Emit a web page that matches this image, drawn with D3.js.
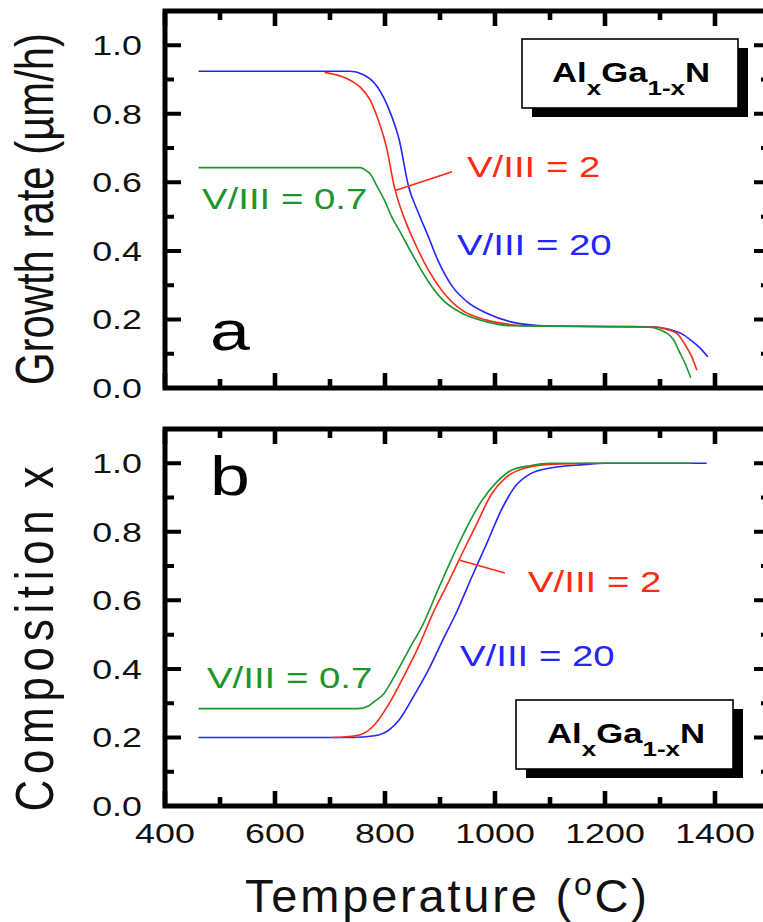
<!DOCTYPE html>
<html>
<head>
<meta charset="utf-8">
<script src="https://cdn.jsdelivr.net/npm/d3@7"></script>
<style>
  body { margin: 0; background: #fff; }
  svg { display: block; }
</style>
</head>
<body>
<div id="chart"></div>
<script>
const width = 763;
const height = 922;
const SX = 1.28; // the figure's lettering is stretched sideways
const font = '"Liberation Sans", Arial, Helvetica, sans-serif';

const blue = "#2424ff", red = "#ff2a12", green = "#1c962c";

// tick values
const xTicks = [400, 600, 800, 1000, 1200, 1400];
const xMinor = [500, 700, 900, 1100, 1300, 1500];
const yTicks = [0, 0.2, 0.4, 0.6, 0.8, 1.0];
const yMinor = [0.1, 0.3, 0.5, 0.7, 0.9];

// (a) growth rate, µm/h, vs temperature °C
const rate20 = [[461, 0.924], [736, 0.924], [760, 0.915], [786, 0.879], [808, 0.81], [826, 0.723],
  [843, 0.587], [861, 0.51], [879, 0.441], [896, 0.373], [923, 0.295], [949, 0.252], [985, 0.218],
  [1029, 0.193], [1082, 0.182], [1100, 0.18], [1250, 0.179], [1290, 0.178], [1321, 0.169],
  [1340, 0.158], [1356, 0.14], [1372, 0.118], [1387, 0.091]];
const rate2 = [[690, 0.921], [719, 0.91], [740, 0.895], [755, 0.878], [773, 0.84], [786, 0.79],
  [803, 0.70], [817, 0.587], [834, 0.5], [852, 0.431], [879, 0.344], [905, 0.281], [940, 0.227],
  [985, 0.198], [1020, 0.187], [1060, 0.181], [1285, 0.178], [1310, 0.172], [1330, 0.16],
  [1348, 0.12], [1358, 0.09], [1367, 0.052]];
const rate07 = [[461, 0.643], [755, 0.643], [765, 0.635], [773, 0.625], [786, 0.587], [799, 0.548],
  [812, 0.5], [826, 0.46], [852, 0.383], [879, 0.31], [905, 0.257], [940, 0.218], [985, 0.193],
  [1029, 0.182], [1277, 0.178], [1300, 0.17], [1312, 0.16], [1325, 0.14], [1334, 0.11],
  [1346, 0.07], [1356, 0.03]];

// (b) composition x vs temperature °C
const comp20 = [[461, 0.2], [740, 0.2], [781, 0.205], [808, 0.223], [826, 0.252], [852, 0.32],
  [879, 0.397], [905, 0.484], [932, 0.572], [958, 0.669], [985, 0.766], [1011, 0.862],
  [1038, 0.935], [1064, 0.969], [1100, 0.986], [1162, 0.996], [1200, 1.0], [1385, 1.0]];
const comp2 = [[702, 0.2], [730, 0.202], [755, 0.208], [781, 0.237], [808, 0.30], [834, 0.378],
  [861, 0.465], [887, 0.562], [914, 0.649], [940, 0.736], [967, 0.824], [994, 0.911],
  [1020, 0.959], [1055, 0.986], [1091, 0.996], [1185, 1.0]];
const comp07 = [[461, 0.284], [750, 0.284], [770, 0.292], [781, 0.305], [799, 0.33], [817, 0.378],
  [843, 0.455], [870, 0.533], [896, 0.63], [923, 0.727], [949, 0.814], [976, 0.891],
  [1003, 0.945], [1029, 0.979], [1064, 0.993], [1100, 1.0], [1357, 1.0]];

// leader lines from the "V/III = 2" labels
const pointerTop = [[820, 0.577], [922, 0.631]];
const pointerBot = [[936, 0.717], [1018, 0.68]];

const x = d3.scaleLinear().domain([400, 1500]).range([165, 770]);
const yTop = d3.scaleLinear().domain([0, 1.1]).range([388, 11]);
const yBot = d3.scaleLinear().domain([0, 1.1]).range([806, 429]);

const svg = d3.select("#chart").append("svg")
  .attr("width", width)
  .attr("height", height)
  .attr("viewBox", [0, 0, width, height])
  .style("font-family", font);

// stretched text helper
function label(g, px, py, str, size, fill, anchor = "start", weight = "normal") {
  return g.append("text")
    .attr("transform", `translate(${px},${py}) scale(${SX},1)`)
    .attr("font-size", size)
    .attr("font-weight", weight)
    .attr("fill", fill)
    .attr("text-anchor", anchor)
    .text(str);
}

function legendBox(g, x0, y0, w, h, tx, ty) {
  g.append("rect").attr("x", x0 + 10).attr("y", y0 + 9).attr("width", w).attr("height", h).attr("fill", "#000");
  g.append("rect").attr("x", x0).attr("y", y0).attr("width", w).attr("height", h)
    .attr("fill", "#fff").attr("stroke", "#000").attr("stroke-width", 1.6);
  const t = g.append("text")
    .attr("transform", `translate(${tx},${ty}) scale(1.24,1)`)
    .attr("font-size", 28)
    .attr("font-weight", "bold");
  t.append("tspan").text("Al");
  t.append("tspan").attr("font-size", 21).attr("dy", 13).text("x");
  t.append("tspan").attr("dy", -13).text("Ga");
  t.append("tspan").attr("font-size", 21).attr("dy", 13).text("1-x");
  t.append("tspan").attr("dy", -13).text("N");
}

function drawPanel(y, series, pointer, labels, letter, showX) {
  const g = svg.append("g");
  const yb = y(0), yt = y(1.1);
  const xl = x(400), xr = x(1500);

  // curves
  const line = d3.line().x(d => x(d[0])).y(d => y(d[1])).curve(d3.curveMonotoneX);
  series.forEach(s => {
    g.append("path").datum(s.data)
      .attr("fill", "none").attr("stroke", s.color).attr("stroke-width", 1.6)
      .attr("d", line);
  });
  g.append("path").datum(pointer)
    .attr("fill", "none").attr("stroke", red).attr("stroke-width", 1.6)
    .attr("d", d3.line().x(d => x(d[0])).y(d => y(d[1])));

  // frame
  g.append("rect")
    .attr("x", xl).attr("y", yt)
    .attr("width", xr - xl).attr("height", yb - yt)
    .attr("fill", "none").attr("stroke", "#000").attr("stroke-width", 5);

  // ticks, pointing inward on all four sides, one path per set
  const xPath = (vals, len) => vals.map(v =>
    `M${x(v)},${yb}v${-len}M${x(v)},${yt}v${len}`).join("");
  const yPath = (vals, len) => vals.map(v =>
    `M${xl},${y(v)}h${len}M${xr},${y(v)}h${-len}`).join("");
  g.append("path").attr("d", xPath(xTicks, 15) + xPath(xMinor, 9))
    .attr("fill", "none").attr("stroke", "#000").attr("stroke-width", 4.6);
  g.append("path").attr("d", yPath(yTicks, 16) + yPath(yMinor, 9))
    .attr("fill", "none").attr("stroke", "#000").attr("stroke-width", 4);

  // tick labels
  yTicks.forEach(v => {
    label(g, xl - 23, y(v) + 10, d3.format(".1f")(v), 28, "#111", "end");
  });
  if (showX) {
    xTicks.forEach(v => label(g, x(v), 843, v, 28, "#111", "middle"));
  }

  labels.forEach(l => label(g, l.px, l.py, l.text, 30, l.color));
  label(g, letter.px, letter.py, letter.text, 56, "#000");
  return g;
}

const topPanel = drawPanel(yTop,
  [{ data: rate20, color: blue }, { data: rate2, color: red }, { data: rate07, color: green }],
  pointerTop,
  [{ text: "V/III = 2", color: red, px: 467, py: 177 },
   { text: "V/III = 20", color: blue, px: 457, py: 255 },
   { text: "V/III = 0.7", color: green, px: 202, py: 209 }],
  { text: "a", px: 210, py: 350 }, false);
legendBox(topPanel, 522, 39, 216, 69, 552, 82);

const bottomPanel = drawPanel(yBot,
  [{ data: comp20, color: blue }, { data: comp2, color: red }, { data: comp07, color: green }],
  pointerBot,
  [{ text: "V/III = 2", color: red, px: 528, py: 592 },
   { text: "V/III = 20", color: blue, px: 460, py: 666 },
   { text: "V/III = 0.7", color: green, px: 207, py: 688 }],
  { text: "b", px: 210, py: 495 }, true);
legendBox(bottomPanel, 516, 700, 217, 69, 547, 743);

// axis titles
svg.append("text")
  .attr("transform", "translate(53,209) scale(1.2,1) rotate(-90)")
  .attr("font-size", 44).attr("text-anchor", "middle").attr("fill", "#111")
  .attr("textLength", 352).attr("lengthAdjust", "spacingAndGlyphs")
  .text("Growth rate (\u00b5m/h)");

const ct = svg.append("text")
  .attr("transform", "translate(53,639) scale(1.2,1) rotate(-90)")
  .attr("font-size", 44).attr("text-anchor", "middle").attr("fill", "#111")
  .attr("textLength", 345).attr("lengthAdjust", "spacing");
ct.append("tspan").text("Composition");
ct.append("tspan").attr("dx", 16).text("x");

const xt = svg.append("text")
  .attr("transform", "translate(446,912)")
  .attr("font-size", 47).attr("text-anchor", "middle").attr("fill", "#111")
  .attr("textLength", 402).attr("lengthAdjust", "spacing");
xt.append("tspan").text("Temperature (");
xt.append("tspan").attr("font-size", 32).attr("dy", -17).text("o");
xt.append("tspan").attr("dy", 17).text("C)");
</script>
</body>
</html>
